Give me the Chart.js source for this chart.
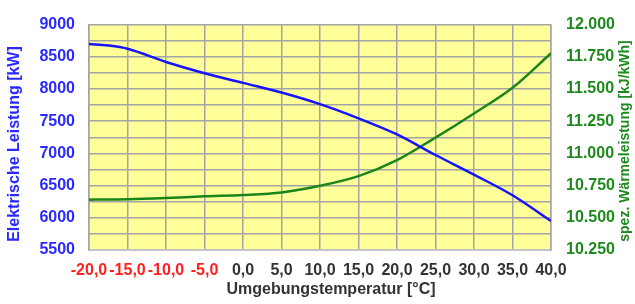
<!DOCTYPE html>
<html>
<head>
<meta charset="utf-8">
<script src="https://cdn.jsdelivr.net/npm/chart.js@4.4.0/dist/chart.umd.min.js"></script>
<style>
  html, body { margin: 0; padding: 0; background: #fff; }
  canvas { display: block; }
</style>
</head>
<body>
<canvas id="powerChart" width="635" height="304"></canvas>
<script>
// values
const temperatures = [-20, -17.5, -15, -10, -5, 0, 5, 10, 15, 20, 25, 30, 35, 40];
const elecPower = [8700, 8675, 8625, 8420, 8245, 8095, 7945, 7765, 7545, 7295, 6975, 6670, 6350, 5950];
const heatRate = [10.641, 10.642, 10.644, 10.654, 10.667, 10.677, 10.697, 10.749, 10.824, 10.948, 11.123, 11.310, 11.509, 11.778];

const xTitle = 'Umgebungstemperatur [°C]';
const leftTitle = 'Elektrische Leistung [kW]';
const rightTitle = 'spez. Wärmeleistung [kJ/kWh]';

const FONT = 'Arial, "Liberation Sans", sans-serif';
const BLUE = '#2a2aff';
const GREEN = '#1e8a1e';
const RED = '#ff1f1f';
const DARK = '#333333';
const GRID = '#a4a4a4';

const toPoints = (xs, ys) => xs.map((x, i) => ({ x: x, y: ys[i] }));

// yellow plot background + axis titles
const decorPlugin = {
    id: 'decor',
    beforeDraw(chart) {
        const a = chart.chartArea;
        const ctx = chart.ctx;
        ctx.save();
        ctx.fillStyle = '#ffff99';
        ctx.fillRect(a.left, a.top, a.right - a.left, a.bottom - a.top);
        ctx.restore();
    },
    afterDraw(chart) {
        const ctx = chart.ctx;
        ctx.save();
        ctx.textAlign = 'center';
        ctx.textBaseline = 'middle';

        ctx.font = 'bold 16px ' + FONT;
        ctx.fillStyle = DARK;
        ctx.fillText(xTitle, 331, 290);

        ctx.save();
        ctx.translate(15, 144);
        ctx.rotate(-Math.PI / 2);
        ctx.fillStyle = BLUE;
        ctx.fillText(leftTitle, 0, 0);
        ctx.restore();

        ctx.save();
        ctx.font = 'bold 14px ' + FONT;
        ctx.translate(625, 141);
        ctx.rotate(-Math.PI / 2);
        ctx.fillStyle = GREEN;
        ctx.fillText(rightTitle, 0, 0);
        ctx.restore();

        ctx.restore();
    }
};

new Chart(document.getElementById('powerChart'), {
    type: 'line',
    data: {
        datasets: [{
            label: leftTitle,
            data: toPoints(temperatures, elecPower),
            yAxisID: 'y',
            borderColor: '#1414ff',
            borderWidth: 2.5,
            pointRadius: 0,
            fill: false,
            cubicInterpolationMode: 'monotone'
        }, {
            label: rightTitle,
            data: toPoints(temperatures, heatRate),
            yAxisID: 'y1',
            borderColor: '#1a861a',
            borderWidth: 2.5,
            pointRadius: 0,
            fill: false,
            cubicInterpolationMode: 'monotone'
        }]
    },
    options: {
        responsive: false,
        animation: false,
        layout: { padding: { top: 16, left: 0, right: 0, bottom: 0 } },
        plugins: {
            legend: { display: false },
            tooltip: { enabled: false }
        },
        scales: {
            x: {
                type: 'linear',
                position: 'bottom',
                min: -20,
                max: 40,
                afterFit(scale) { scale.height = 54; },
                grid: { color: GRID, lineWidth: 1.5, drawTicks: false },
                border: { color: '#c4c4c4', width: 2 },
                ticks: {
                    stepSize: 5,
                    padding: 11,
                    maxRotation: 0,
                    autoSkip: false,
                    font: { family: FONT, size: 16, weight: 'bold' },
                    color: ctx => (ctx.tick && ctx.tick.value < 0) ? RED : DARK,
                    callback: v => v.toFixed(1).replace('.', ',')
                }
            },
            y: {
                type: 'linear',
                position: 'left',
                min: 5500,
                max: 9000,
                afterFit(scale) { scale.width = 89; },
                grid: { color: GRID, lineWidth: 1.5, drawTicks: false },
                border: { color: GRID, width: 1.5 },
                ticks: {
                    stepSize: 250,
                    padding: 14,
                    autoSkip: false,
                    font: { family: FONT, size: 16, weight: 'bold' },
                    color: BLUE,
                    callback: v => (v % 500 === 0 ? String(v) : '')
                }
            },
            y1: {
                type: 'linear',
                position: 'right',
                min: 10.25,
                max: 12.0,
                afterFit(scale) { scale.width = 84; },
                grid: { display: false, drawTicks: false },
                border: { color: GRID, width: 1.5 },
                ticks: {
                    stepSize: 0.25,
                    padding: 15,
                    autoSkip: false,
                    font: { family: FONT, size: 16, weight: 'bold' },
                    color: GREEN,
                    callback: v => v.toFixed(3)
                }
            }
        }
    },
    plugins: [decorPlugin]
});
</script>
</body>
</html>
